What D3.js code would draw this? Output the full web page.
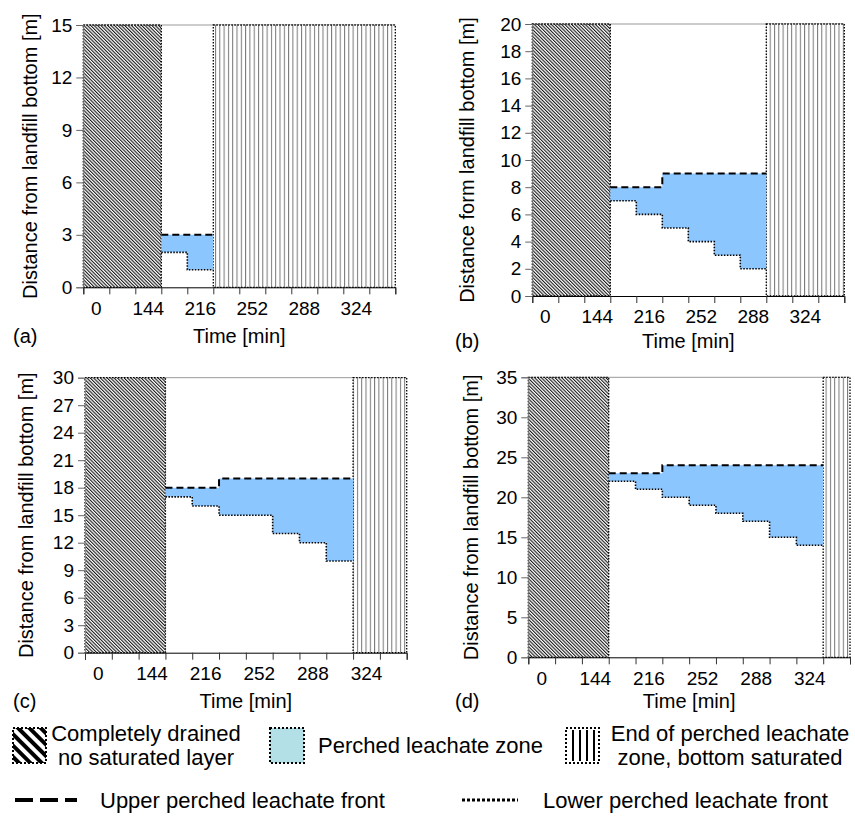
<!DOCTYPE html>
<html>
<head>
<meta charset="utf-8">
<script src="https://cdn.jsdelivr.net/npm/d3@7"></script>
<style>
  body { margin: 0; background: #fff; }
  text { font-family: "Liberation Sans", Arial, sans-serif; fill: #000; }
</style>
</head>
<body>
<svg id="fig" width="855" height="826"></svg>
<script>
// Time steps along the x axis (12 bins), only every other one is labelled
const timeSteps = [0, 1, 2, 3, 4, 5, 6, 7, 8, 9, 10, 11];
const timeLabels = ["0", "", "144", "", "216", "", "252", "", "288", "", "324", ""];
const drainedSteps = 3; // bins 0-2 are completely drained

// Upper / lower perched leachate front per bin, starting at bin 3
const upperA = [3, 3];
const lowerA = [2, 1];
const upperB = [8, 8, 9, 9, 9, 9];
const lowerB = [7, 6, 5, 4, 3, 2];
const upperC = [18, 18, 19, 19, 19, 19, 19];
const lowerC = [17, 16, 15, 15, 13, 12, 10];
const upperD = [23, 23, 24, 24, 24, 24, 24, 24];
const lowerD = [22, 21, 20, 19, 18, 17, 15, 14];

// y axis ticks for each panel
const yTicksA = [0, 3, 6, 9, 12, 15];
const yTicksB = [0, 2, 4, 6, 8, 10, 12, 14, 16, 18, 20];
const yTicksC = [0, 3, 6, 9, 12, 15, 18, 21, 24, 27, 30];
const yTicksD = [0, 5, 10, 15, 20, 25, 30, 35];

const panels = [
    { label: "(a)", upper: upperA, lower: lowerA, yTicks: yTicksA,
      yTitle: "Distance from landfill bottom [m]",
      x0: 83.3, x1: 395.3, top: 25, bottom: 287.3, titleX: 37, labelX: 13, timeY: 343 },
    { label: "(b)", upper: upperB, lower: lowerB, yTicks: yTicksB,
      yTitle: "Distance form landfill bottom [m]",
      x0: 532.3, x1: 844.3, top: 24, bottom: 296, titleX: 474, labelX: 455, timeY: 348 },
    { label: "(c)", upper: upperC, lower: lowerC, yTicks: yTicksC,
      yTitle: "Distance from landfill bottom [m]",
      x0: 85, x1: 406.7, top: 377.7, bottom: 652.7, titleX: 33, labelX: 13, timeY: 708 },
    { label: "(d)", upper: upperD, lower: lowerD, yTicks: yTicksD,
      yTitle: "Distance from landfill bottom [m]",
      x0: 528.3, x1: 850, top: 377.3, bottom: 657.3, titleX: 478, labelX: 455, timeY: 708 }
];

const blue = "#8cc6ff";
const svg = d3.select("#fig");
const defs = svg.append("defs");

// Fine diagonal hatch for drained zone
const hatch = defs.append("pattern")
    .attr("id", "hatch")
    .attr("patternUnits", "userSpaceOnUse")
    .attr("width", 2.4).attr("height", 10)
    .attr("patternTransform", "rotate(-45)");
hatch.append("rect").attr("width", 2.4).attr("height", 10).attr("fill", "#fff");
hatch.append("rect").attr("width", 1.1).attr("height", 10).attr("fill", "#1a1a1a");

// Vertical stripes for end zone
const vlines = defs.append("pattern")
    .attr("id", "vlines")
    .attr("patternUnits", "userSpaceOnUse")
    .attr("width", 4.3).attr("height", 10);
vlines.append("rect").attr("width", 4.3).attr("height", 10).attr("fill", "#fff");
vlines.append("rect").attr("width", 1).attr("height", 10).attr("fill", "#777");

// Coarse hatch for legend icon
const hatchBig = defs.append("pattern")
    .attr("id", "hatchBig")
    .attr("patternUnits", "userSpaceOnUse")
    .attr("width", 8).attr("height", 20)
    .attr("patternTransform", "rotate(-45)");
hatchBig.append("rect").attr("width", 8).attr("height", 20).attr("fill", "#fff");
hatchBig.append("rect").attr("width", 4).attr("height", 20).attr("fill", "#000");

const dotted = "1.5,1.5";

function drawPanel(p) {
    const g = svg.append("g");
    const yMax = d3.max(p.yTicks);

    const x = d3.scaleBand().domain(timeSteps).range([p.x0, p.x1]).padding(0);
    const xEdge = d3.scaleLinear().domain([0, timeSteps.length]).range([p.x0, p.x1]);
    const y = d3.scaleLinear().domain([0, yMax]).range([p.bottom, p.top]);

    // top frame line
    g.append("line")
        .attr("x1", p.x0).attr("x2", p.x1)
        .attr("y1", p.top).attr("y2", p.top)
        .attr("stroke", "#999").attr("stroke-width", 1);

    // completely drained zone
    g.append("rect")
        .attr("x", xEdge(0)).attr("y", y(yMax))
        .attr("width", xEdge(drainedSteps) - xEdge(0))
        .attr("height", y(0) - y(yMax))
        .attr("fill", "url(#hatch)")
        .attr("stroke", "#000").attr("stroke-width", 1.3)
        .attr("stroke-dasharray", dotted);

    // end of perched leachate zone
    const endStart = drainedSteps + p.upper.length;
    g.append("rect")
        .attr("x", xEdge(endStart)).attr("y", y(yMax))
        .attr("width", xEdge(timeSteps.length) - xEdge(endStart))
        .attr("height", y(0) - y(yMax))
        .attr("fill", "url(#vlines)")
        .attr("stroke", "#000").attr("stroke-width", 1.3)
        .attr("stroke-dasharray", dotted);

    // perched zone as step area
    const pts = p.upper.map((u, i) => ({ step: drainedSteps + i, upper: u, lower: p.lower[i] }));
    const last = pts[pts.length - 1];
    pts.push({ step: last.step + 1, upper: last.upper, lower: last.lower });

    const area = d3.area()
        .curve(d3.curveStepAfter)
        .x(d => xEdge(d.step))
        .y0(d => y(d.lower))
        .y1(d => y(d.upper));
    g.append("path").datum(pts).attr("d", area).attr("fill", blue);

    const upperLine = d3.line().curve(d3.curveStepAfter)
        .x(d => xEdge(d.step)).y(d => y(d.upper));
    const lowerLine = d3.line().curve(d3.curveStepAfter)
        .x(d => xEdge(d.step)).y(d => y(d.lower));

    g.append("path").datum(pts).attr("d", upperLine)
        .attr("fill", "none").attr("stroke", "#000")
        .attr("stroke-width", 2).attr("stroke-dasharray", "7,4");
    g.append("path").datum(pts).attr("d", lowerLine)
        .attr("fill", "none").attr("stroke", "#000")
        .attr("stroke-width", 1.6).attr("stroke-dasharray", dotted);

    // y axis
    const yAxis = g.append("g")
        .attr("transform", `translate(${p.x0},0)`)
        .call(d3.axisLeft(y).tickValues(p.yTicks).tickSize(7).tickPadding(4));
    yAxis.select(".domain").attr("stroke", "#888");
    yAxis.selectAll(".tick line").attr("stroke", "#666");
    yAxis.selectAll(".tick text")
        .attr("font-size", 19).attr("fill", "#000")
        .style("font-family", "'Liberation Sans', Arial, sans-serif");

    // x axis: boundary ticks
    const xTicks = g.append("g")
        .attr("transform", `translate(0,${p.bottom})`)
        .call(d3.axisBottom(xEdge).tickValues(d3.range(timeSteps.length + 1)).tickSize(7).tickFormat(""));
    xTicks.select(".domain").attr("stroke", "#000");
    xTicks.selectAll(".tick line").attr("stroke", "#333");

    // x axis: labels centred in bins
    const xLabels = g.append("g")
        .attr("transform", `translate(0,${p.bottom})`)
        .call(d3.axisBottom(x).tickSize(0).tickPadding(14).tickFormat(d => timeLabels[d]));
    xLabels.select(".domain").remove();
    xLabels.selectAll(".tick text")
        .attr("font-size", 19).attr("fill", "#000")
        .style("font-family", "'Liberation Sans', Arial, sans-serif");

    // axis titles and panel label
    g.append("text")
        .attr("transform", `translate(${p.titleX},${(p.top + p.bottom) / 2})rotate(-90)`)
        .attr("text-anchor", "middle")
        .attr("font-size", 20)
        .text(p.yTitle);

    g.append("text")
        .attr("x", (p.x0 + p.x1) / 2).attr("y", p.timeY)
        .attr("text-anchor", "middle")
        .attr("font-size", 20)
        .text("Time [min]");

    g.append("text")
        .attr("x", p.labelX).attr("y", p.timeY)
        .attr("font-size", 20)
        .text(p.label);
}

panels.forEach(drawPanel);

// Legend
const leg = svg.append("g");
const legFont = 22;

// drained icon
leg.append("rect")
    .attr("x", 13).attr("y", 728).attr("width", 33).attr("height", 35)
    .attr("fill", "url(#hatchBig)")
    .attr("stroke", "#000").attr("stroke-width", 2).attr("stroke-dasharray", "2,2");
leg.append("text").attr("x", 146).attr("y", 741).attr("text-anchor", "middle")
    .attr("font-size", legFont).text("Completely drained");
leg.append("text").attr("x", 146).attr("y", 765).attr("text-anchor", "middle")
    .attr("font-size", legFont).text("no saturated layer");

// perched icon
leg.append("rect")
    .attr("x", 270).attr("y", 728).attr("width", 34).attr("height", 35)
    .attr("fill", "#b2e0e6")
    .attr("stroke", "#000").attr("stroke-width", 2).attr("stroke-dasharray", "2,2");
leg.append("text").attr("x", 318).attr("y", 753)
    .attr("font-size", legFont).text("Perched leachate zone");

// end zone icon
leg.append("rect")
    .attr("x", 566).attr("y", 728).attr("width", 33).attr("height", 35)
    .attr("fill", "#fff")
    .attr("stroke", "#000").attr("stroke-width", 2).attr("stroke-dasharray", "2,2");
leg.selectAll(".vl").data([573, 580, 587, 594]).enter().append("line")
    .attr("x1", d => d).attr("x2", d => d)
    .attr("y1", 730).attr("y2", 761)
    .attr("stroke", "#000").attr("stroke-width", 2);
leg.append("text").attr("x", 730).attr("y", 741).attr("text-anchor", "middle")
    .attr("font-size", legFont).text("End of perched leachate");
leg.append("text").attr("x", 730).attr("y", 765).attr("text-anchor", "middle")
    .attr("font-size", legFont).text("zone, bottom saturated");

// front lines
leg.append("line")
    .attr("x1", 15).attr("x2", 77).attr("y1", 800).attr("y2", 800)
    .attr("stroke", "#000").attr("stroke-width", 4).attr("stroke-dasharray", "18,7");
leg.append("text").attr("x", 100).attr("y", 808)
    .attr("font-size", legFont).text("Upper perched leachate front");

leg.append("line")
    .attr("x1", 462).attr("x2", 518).attr("y1", 800).attr("y2", 800)
    .attr("stroke", "#000").attr("stroke-width", 3).attr("stroke-dasharray", "3,2");
leg.append("text").attr("x", 543).attr("y", 808)
    .attr("font-size", legFont).text("Lower perched leachate front");
</script>
</body>
</html>
